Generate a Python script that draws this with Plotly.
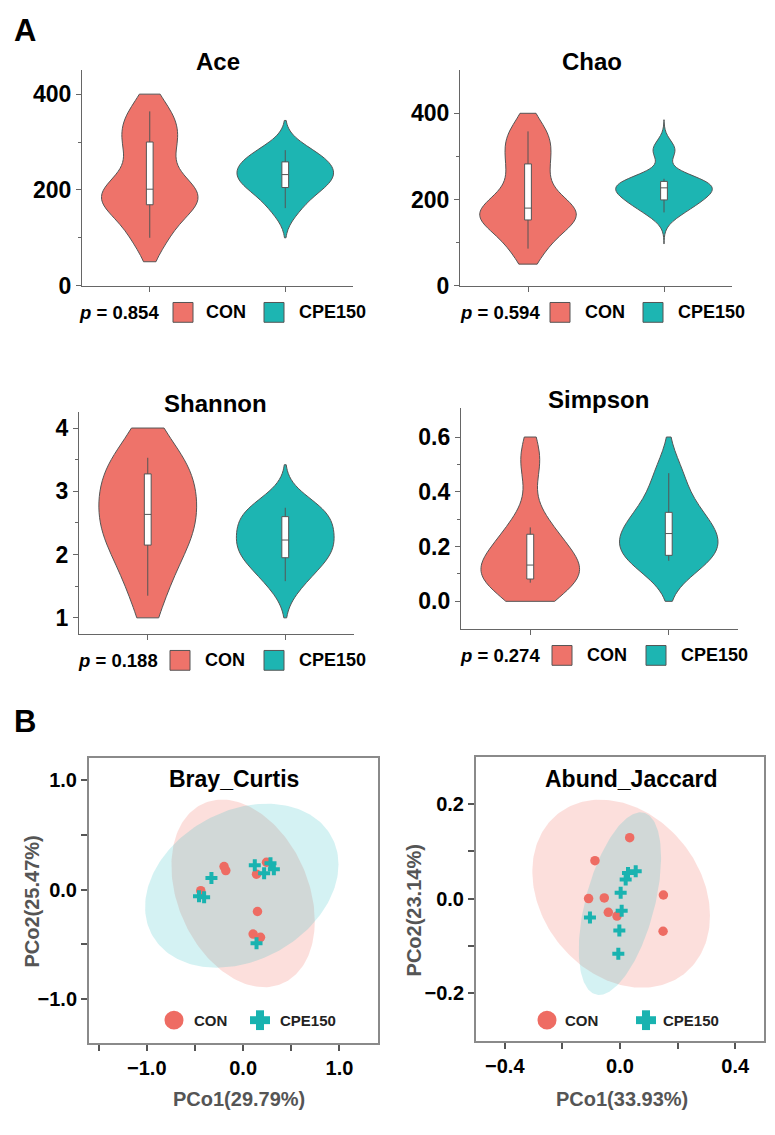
import numpy as np
import plotly.graph_objects as go

W, H = 775, 1135
FONT = "Liberation Sans, Arial, sans-serif"

# ---------------- data ----------------
groups = ["CON", "CPE150"]

# alpha diversity samples (estimated from the box/violin summaries)
ace_con = [100, 160, 178, 195, 208, 280, 320, 364]
ace_cpe = [162, 200, 210, 228, 236, 252, 265, 283]
chao_con = [86, 148, 157, 175, 185, 255, 310, 358]
chao_cpe = [170, 195, 203, 222, 232, 236, 248, 315]
shannon_con = [1.35, 2.0, 2.3, 2.55, 2.72, 3.15, 3.4, 3.53]
shannon_cpe = [1.58, 1.9, 2.0, 2.2, 2.26, 2.55, 2.65, 2.74]
simpson_con = [0.068, 0.078, 0.085, 0.12, 0.145, 0.22, 0.27, 0.52]
simpson_cpe = [0.148, 0.16, 0.176, 0.23, 0.265, 0.29, 0.36, 0.468]

# violin density spans and kernel bandwidths (None = automatic)
ace_span = [[50, 400], [100, 345]]
chao_span = [[50, 400], [97, 385]]
shannon_span = [[1.0, 4.0], [1.0, 3.42]]
simpson_span = [[0.0, 0.6], [0.0, 0.6]]
ace_bw = [40, None]
chao_bw = [40, None]
shannon_bw = [None, None]
simpson_bw = [None, None]

p_values = ["0.854", "0.594", "0.188", "0.274"]
alpha_titles = ["Ace", "Chao", "Shannon", "Simpson"]

# PCoA coordinates
bray_con_x = [-0.44, -0.198, -0.18, 0.139, 0.243, 0.149, 0.104, 0.18]
bray_con_y = [-0.01, 0.21, 0.174, 0.141, 0.25, -0.20, -0.406, -0.436]
bray_cpe_x = [-0.458, -0.405, -0.329, 0.121, 0.218, 0.284, 0.319, 0.139]
bray_cpe_y = [-0.06, -0.069, 0.105, 0.223, 0.15, 0.24, 0.186, -0.49]

jac_con_x = [0.0336, -0.087, -0.109, -0.0545, -0.0406, -0.0104, 0.1507, 0.1496]
jac_con_y = [0.1285, 0.0799, 0.0, 0.0014, -0.029, -0.0368, 0.0076, -0.0688]
jac_cpe_x = [-0.1043, -0.0058, -0.0023, 0.0023, 0.0058, 0.0197, 0.0278, 0.0545]
jac_cpe_y = [-0.0396, -0.116, -0.0674, 0.0125, -0.0257, 0.0403, 0.0542, 0.0576]

pcoa_titles = ["Bray_Curtis", "Abund_Jaccard"]
pcoa_xlabels = ["PCo1(29.79%)", "PCo1(33.93%)"]
pcoa_ylabels = ["PCo2(25.47%)", "PCo2(23.14%)"]

# ---------------- style ----------------
C_CON = "#EE736A"
C_CPE = "#1DB5B2"
C_CON_PT = "#EE6C63"
C_CPE_PT = "#19B3B0"
AX = "#666666"


def px(x):
    return x / W


def py(y):
    return 1 - y / H


fig = go.Figure()

# violin panel boxes in pixels: (left, right, top, bottom)
vboxes = [(82, 353, 71, 289), (460, 732, 71, 289), (79, 354, 417, 641), (461, 738, 413, 636)]
vtitle_x = [218, 592, 216, 598]
vranges = [[0, 450], [0, 500], [0.75, 4.25], [-0.1, 0.705]]
vticks = [[0, 200, 400], [0, 200, 400], [1, 2, 3, 4], [0, 0.2, 0.4, 0.6]]
vminor = [[100, 300], [100, 300], [1.5, 2.5, 3.5], [0.1, 0.3, 0.5]]
vfmt = ["d", "d", "d", ".1f"]
vdata = [(ace_con, ace_cpe, ace_span, ace_bw), (chao_con, chao_cpe, chao_span, chao_bw),
         (shannon_con, shannon_cpe, shannon_span, shannon_bw),
         (simpson_con, simpson_cpe, simpson_span, simpson_bw)]

layout_axes = {}
annotations = []
shapes = []

for i, ((con, cpe, span, bws), box, rng) in enumerate(zip(vdata, vboxes, vranges)):
    k = i + 1
    xa = "x" if k == 1 else f"x{k}"
    ya = "y" if k == 1 else f"y{k}"
    for g, vals, sp, bw, col in ((groups[0], con, span[0], bws[0], C_CON),
                                 (groups[1], cpe, span[1], bws[1], C_CPE)):
        kw = {} if bw is None else dict(bandwidth=bw)
        fig.add_trace(go.Violin(
            x=[g] * len(vals), y=vals, xaxis=xa, yaxis=ya,
            fillcolor=col, line=dict(color="#555555", width=1), opacity=1,
            spanmode="manual", span=sp, width=0.71, scalemode="width",
            points=False,
            box=dict(visible=True, width=0.07, fillcolor="white",
                     line=dict(color="#555555", width=1)),
            meanline=dict(visible=False), showlegend=False, hoveron="violins", **kw
        ))
    l, r, t, b = box
    layout_axes[f"xaxis{'' if k == 1 else k}"] = dict(
        domain=[px(l), px(r)], anchor=ya, range=[-0.5, 1.5],
        showline=True, linecolor=AX, linewidth=1.2, ticks="outside", ticklen=5,
        tickcolor=AX, showticklabels=False, showgrid=False, zeroline=False,
        categoryorder="array", categoryarray=groups,
    )
    layout_axes[f"yaxis{'' if k == 1 else k}"] = dict(
        domain=[py(b), py(t)], anchor=xa, range=rng,
        showline=True, linecolor=AX, linewidth=1.2, ticks="outside", ticklen=5,
        tickcolor=AX, tickvals=vticks[i], tickformat=vfmt[i],
        tickfont=dict(family=FONT, size=23, color="black", weight=700),
        minor=dict(tickvals=vminor[i], ticks="outside", ticklen=3, tickcolor=AX),
        showgrid=False, zeroline=False,
    )
    annotations.append(dict(text=f"<b>{alpha_titles[i]}</b>", x=px(vtitle_x[i]), y=py(t - 9),
                            xref="paper", yref="paper", showarrow=False, xanchor="center",
                            yanchor="middle", font=dict(family=FONT, size=24, color="black")))

# legend rows under violins: (p_left, sq1_left, con_left, sq2_left, cpe_left, y)
lrows = [(77, 173, 204, 264, 297, 316), (458, 550, 583, 643, 676, 316),
         (76, 170, 203, 264, 297, 668), (458, 552, 585, 646, 679, 663)]
for i, (pl, s1, cl, s2, cp, yc) in enumerate(lrows):
    annotations.append(dict(text=f"<b><i>p</i> = {p_values[i]}</b>", x=px(pl), y=py(yc),
                            xref="paper", yref="paper", showarrow=False, xanchor="left",
                            yanchor="middle", font=dict(family=FONT, size=18.5, color="black")))
    annotations.append(dict(text=f"<b>{groups[0]}</b>", x=px(cl), y=py(yc), xref="paper",
                            yref="paper", showarrow=False, xanchor="left", yanchor="middle",
                            font=dict(family=FONT, size=18, color="black")))
    annotations.append(dict(text=f"<b>{groups[1]}</b>", x=px(cp), y=py(yc), xref="paper",
                            yref="paper", showarrow=False, xanchor="left", yanchor="middle",
                            font=dict(family=FONT, size=18, color="black")))
    for s, col in ((s1, C_CON), (s2, C_CPE)):
        shapes.append(dict(type="rect", xref="paper", yref="paper", x0=px(s), x1=px(s + 20),
                           y0=py(yc + 10), y1=py(yc - 10), fillcolor=col,
                           line=dict(color="#555555", width=1)))


# ---------------- PCoA ----------------
def conf_ellipse(xs, ys, level=0.95, npts=200):
    pts = np.column_stack([xs, ys]).astype(float)
    n = len(pts)
    center = pts.mean(axis=0)
    cov = np.cov(pts.T)
    d = n - 1
    fq = (d / 2.0) * ((1 - level) ** (-2.0 / d) - 1)  # F(2, d) quantile
    radius = np.sqrt(2 * fq)
    L = np.linalg.cholesky(cov)
    t = np.linspace(0, 2 * np.pi, npts)
    unit = np.vstack([np.cos(t), np.sin(t)])
    e = center[:, None] + radius * (L @ unit)
    return e[0], e[1]


pboxes = [(89, 378, 767, 1055), (476, 764, 766, 1053)]
pxr = [[-1.6, 1.4], [-0.5, 0.5]]
pyr = [[-1.4, 1.2], [-0.3, 0.298]]
pxt = [[-1, 0, 1], [-0.4, 0, 0.4]]
pxm = [[-1.5, -0.5, 0.5], [-0.2, 0.2]]
pyt = [[-1, 0, 1], [-0.2, 0, 0.2]]
pym = [[-0.5, 0.5], [-0.1, 0.1]]
pdata = [(bray_con_x, bray_con_y, bray_cpe_x, bray_cpe_y), (jac_con_x, jac_con_y, jac_cpe_x, jac_cpe_y)]
plegend = [(174, 192, 260, 278), (547, 563, 646, 661)]
ptitle_x = [234, 631]
pylab_x = [32, 414]
pylab_y = [912, 921]
pxlab_x = [239, 622]

for j, (cx, cy, tx, ty) in enumerate(pdata):
    k = 5 + j
    xa, ya = f"x{k}", f"y{k}"
    ex, ey = conf_ellipse(cx, cy)
    fig.add_trace(go.Scatter(x=ex, y=ey, xaxis=xa, yaxis=ya, mode="lines", fill="toself",
                             fillcolor="rgba(244,120,110,0.24)", line=dict(width=0),
                             hoverinfo="skip", showlegend=False))
    ex, ey = conf_ellipse(tx, ty)
    fig.add_trace(go.Scatter(x=ex, y=ey, xaxis=xa, yaxis=ya, mode="lines", fill="toself",
                             fillcolor="rgba(40,190,195,0.20)", line=dict(width=0),
                             hoverinfo="skip", showlegend=False))
    fig.add_trace(go.Scatter(x=cx, y=cy, xaxis=xa, yaxis=ya, mode="markers",
                             marker=dict(symbol="circle", size=9.5, color=C_CON_PT),
                             name=groups[0], showlegend=False))
    fig.add_trace(go.Scatter(x=tx, y=ty, xaxis=xa, yaxis=ya, mode="markers",
                             marker=dict(symbol="cross", size=10, color=C_CPE_PT),
                             name=groups[1], showlegend=False))
    l, r, t, b = pboxes[j]
    layout_axes[f"xaxis{k}"] = dict(
        domain=[px(l), px(r)], anchor=ya, range=pxr[j],
        showline=True, mirror=True, linecolor="#8a8a8a", linewidth=2,
        ticks="outside", ticklen=6, tickwidth=1.5, tickcolor="#555555", tickvals=pxt[j], tickformat=".1f",
        tickfont=dict(family=FONT, size=20, color="black", weight=700),
        minor=dict(tickvals=pxm[j], ticks="outside", ticklen=6, tickwidth=1.5, tickcolor="#555555"),
        showgrid=False, zeroline=False,
    )
    layout_axes[f"yaxis{k}"] = dict(
        domain=[py(b), py(t)], anchor=xa, range=pyr[j],
        showline=True, mirror=True, linecolor="#8a8a8a", linewidth=2,
        ticks="outside", ticklen=6, tickwidth=1.5, tickcolor="#555555", tickvals=pyt[j], tickformat=".1f",
        tickfont=dict(family=FONT, size=20, color="black", weight=700),
        minor=dict(tickvals=pym[j], ticks="outside", ticklen=6, tickwidth=1.5, tickcolor="#555555"),
        showgrid=False, zeroline=False,
    )
    annotations.append(dict(text=f"<b>{pcoa_titles[j]}</b>", x=px(ptitle_x[j]),
                            y=py(788), xref="paper", yref="paper", showarrow=False,
                            xanchor="center", yanchor="middle",
                            font=dict(family=FONT, size=23, color="black")))
    annotations.append(dict(text=f"<b>{pcoa_xlabels[j]}</b>", x=px(pxlab_x[j]), y=py(1112),
                            xref="paper", yref="paper", showarrow=False, xanchor="center",
                            yanchor="middle", font=dict(family=FONT, size=20, color="#555555")))
    annotations.append(dict(text=f"<b>{pcoa_ylabels[j]}</b>", x=px(pylab_x[j]), y=py(pylab_y[j]),
                            xref="paper", yref="paper", showarrow=False, xanchor="center",
                            yanchor="middle", textangle=-90,
                            font=dict(family=FONT, size=20, color="#555555")))
    # inner legend
    c0, t0, c1, t1 = plegend[j]
    yc = 1032
    shapes.append(dict(type="circle", xref="paper", yref="paper", x0=px(c0 - 9.5), x1=px(c0 + 9.5),
                       y0=py(yc + 9.5), y1=py(yc - 9.5), fillcolor=C_CON_PT, line=dict(width=0)))
    shapes.append(dict(type="rect", xref="paper", yref="paper", x0=px(c1 - 10), x1=px(c1 + 10),
                       y0=py(yc + 4), y1=py(yc - 4), fillcolor=C_CPE_PT, line=dict(width=0)))
    shapes.append(dict(type="rect", xref="paper", yref="paper", x0=px(c1 - 4), x1=px(c1 + 4),
                       y0=py(yc + 10), y1=py(yc - 10), fillcolor=C_CPE_PT, line=dict(width=0)))
    annotations.append(dict(text=f"<b>{groups[0]}</b>", x=px(t0), y=py(yc), xref="paper", yref="paper",
                            showarrow=False, xanchor="left", yanchor="middle",
                            font=dict(family=FONT, size=15, color="#222222")))
    annotations.append(dict(text=f"<b>{groups[1]}</b>", x=px(t1), y=py(yc), xref="paper", yref="paper",
                            showarrow=False, xanchor="left", yanchor="middle",
                            font=dict(family=FONT, size=15, color="#222222")))

# panel letters
for letter, (lx, ly) in (("A", (25, 31)), ("B", (25, 730))):
    annotations.append(dict(text=f"<b>{letter}</b>", x=px(lx), y=py(ly), xref="paper", yref="paper",
                            showarrow=False, xanchor="center", yanchor="middle",
                            font=dict(family=FONT, size=31, color="black")))

fig.update_layout(
    width=W, height=H, margin=dict(l=0, r=0, t=0, b=0),
    paper_bgcolor="white", plot_bgcolor="white",
    font=dict(family=FONT), violinmode="overlay",
    annotations=annotations, shapes=shapes, **layout_axes,
)

fig.write_html("out.html", config={"displayModeBar": False},
               post_script="document.body.style.margin='0px';")
